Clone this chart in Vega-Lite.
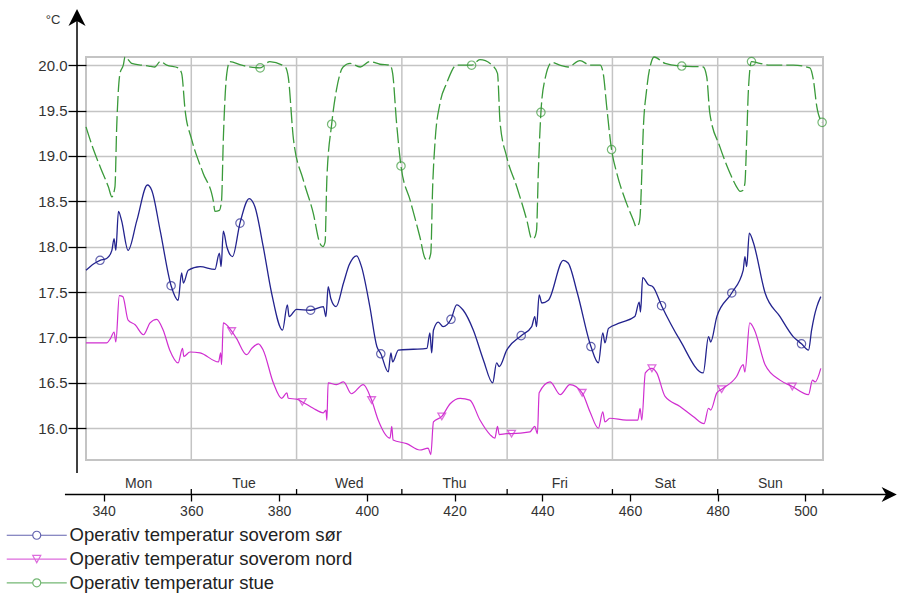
{
  "$schema": "https://vega.github.io/schema/vega-lite/v6.json",
  "width": 737,
  "height": 403,
  "autosize": {"type": "none"},
  "padding": {"left": 86, "top": 57, "right": 74, "bottom": 135},
  "background": "white",
  "config": {
    "view": {"stroke": "#c4c4c4", "strokeWidth": 2},
    "font": "Liberation Sans"
  },
  "datasets": {
    "sor": [
      {"t":336,"v":17.74},{"t":337.7,"v":17.81},{"t":339.2,"v":17.85},{"t":340.7,"v":17.87},{"t":341.9,"v":17.96},{"t":342.4,"v":18.09},{"t":342.8,"v":17.96},{"t":343.4,"v":18.39},{"t":344.1,"v":18.29},{"t":345.6,"v":17.96},{"t":347.6,"v":18.29},{"t":350.0,"v":18.68},{"t":351.0,"v":18.62},{"t":352.9,"v":18.18},{"t":355.4,"v":17.57},{"t":357.0,"v":17.41},{"t":357.8,"v":17.71},{"t":358.2,"v":17.6},{"t":359.3,"v":17.74},{"t":362.0,"v":17.78},{"t":365.4,"v":17.75},{"t":366.4,"v":17.93},{"t":366.8,"v":17.78},{"t":367.3,"v":18.17},{"t":368.1,"v":18.0},{"t":369.4,"v":17.89},{"t":371.1,"v":18.26},{"t":373.2,"v":18.53},{"t":374.5,"v":18.44},{"t":376.4,"v":18.0},{"t":378.3,"v":17.49},{"t":380.8,"v":17.08},{"t":381.9,"v":17.36},{"t":382.3,"v":17.23},{"t":384.0,"v":17.31},{"t":387.2,"v":17.3},{"t":390.1,"v":17.34},{"t":390.7,"v":17.23},{"t":391.2,"v":17.56},{"t":391.8,"v":17.43},{"t":393.0,"v":17.34},{"t":394.7,"v":17.6},{"t":396.0,"v":17.8},{"t":397.7,"v":17.9},{"t":398.8,"v":17.78},{"t":400.7,"v":17.34},{"t":402.3,"v":16.9},{"t":403.2,"v":16.82},{"t":404.9,"v":16.62},{"t":405.5,"v":16.83},{"t":405.9,"v":16.73},{"t":407.2,"v":16.86},{"t":410.6,"v":16.87},{"t":413.7,"v":16.88},{"t":414.4,"v":17.05},{"t":414.8,"v":16.83},{"t":415.2,"v":17.08},{"t":416.3,"v":17.17},{"t":417.4,"v":17.12},{"t":419.2,"v":17.2},{"t":420.5,"v":17.36},{"t":422.0,"v":17.3},{"t":424.3,"v":17.08},{"t":426.6,"v":16.75},{"t":428.7,"v":16.5},{"t":429.6,"v":16.72},{"t":430.2,"v":16.68},{"t":431.9,"v":16.86},{"t":435.2,"v":17.02},{"t":437.6,"v":17.12},{"t":438.3,"v":17.23},{"t":438.7,"v":17.12},{"t":439.3,"v":17.47},{"t":439.9,"v":17.38},{"t":441.4,"v":17.41},{"t":444.8,"v":17.85},{"t":445.9,"v":17.82},{"t":448.0,"v":17.49},{"t":451.1,"v":16.9},{"t":452.8,"v":16.72},{"t":453.8,"v":17.05},{"t":454.3,"v":16.94},{"t":455.1,"v":17.1},{"t":457.7,"v":17.16},{"t":461.1,"v":17.23},{"t":462.1,"v":17.39},{"t":462.4,"v":17.28},{"t":462.9,"v":17.66},{"t":464.2,"v":17.58},{"t":465.2,"v":17.56},{"t":467.2,"v":17.35},{"t":471.4,"v":16.97},{"t":476.7,"v":16.61},{"t":477.9,"v":17.01},{"t":478.4,"v":16.95},{"t":479.8,"v":17.23},{"t":483.2,"v":17.49},{"t":485.8,"v":17.74},{"t":486.2,"v":17.89},{"t":486.6,"v":17.78},{"t":487.2,"v":18.15},{"t":488.1,"v":18.05},{"t":490.8,"v":17.49},{"t":494.2,"v":17.23},{"t":497.2,"v":17.01},{"t":499.1,"v":16.93},{"t":500.7,"v":16.86},{"t":501.4,"v":17.08},{"t":502.0,"v":17.23},{"t":502.6,"v":17.34},{"t":503.5,"v":17.45}
    ],
    "nord": [
      {"t":336,"v":16.94},{"t":340.7,"v":16.94},{"t":341.6,"v":16.99},{"t":342.4,"v":17.06},{"t":342.8,"v":16.95},{"t":343.6,"v":17.46},{"t":344.4,"v":17.45},{"t":345.6,"v":17.19},{"t":347.2,"v":17.14},{"t":349.1,"v":17.03},{"t":350.6,"v":17.16},{"t":352.1,"v":17.2},{"t":353.6,"v":17.08},{"t":355.1,"v":16.86},{"t":357.0,"v":16.72},{"t":358.0,"v":16.88},{"t":358.3,"v":16.79},{"t":359.7,"v":16.84},{"t":362.0,"v":16.83},{"t":366.2,"v":16.73},{"t":366.7,"v":16.83},{"t":366.9,"v":16.7},{"t":367.3,"v":17.16},{"t":369.2,"v":17.07},{"t":370.3,"v":16.99},{"t":372.6,"v":16.81},{"t":373.8,"v":16.88},{"t":375.3,"v":16.93},{"t":376.4,"v":16.86},{"t":378.7,"v":16.5},{"t":380.6,"v":16.33},{"t":381.8,"v":16.39},{"t":382.1,"v":16.33},{"t":384.0,"v":16.32},{"t":385.3,"v":16.29},{"t":387.8,"v":16.22},{"t":390.1,"v":16.17},{"t":390.7,"v":16.2},{"t":390.9,"v":16.09},{"t":391.2,"v":16.5},{"t":393.1,"v":16.48},{"t":394.7,"v":16.51},{"t":396.5,"v":16.38},{"t":399.2,"v":16.48},{"t":401.1,"v":16.31},{"t":402.6,"v":16.09},{"t":405.3,"v":15.89},{"t":405.7,"v":16.02},{"t":406.0,"v":15.87},{"t":409.1,"v":15.83},{"t":412.1,"v":15.76},{"t":414.0,"v":15.78},{"t":414.6,"v":15.71},{"t":415.2,"v":16.07},{"t":417.1,"v":16.13},{"t":419.0,"v":16.27},{"t":421.3,"v":16.33},{"t":423.5,"v":16.31},{"t":425.8,"v":16.09},{"t":428.1,"v":15.93},{"t":429.2,"v":15.89},{"t":429.8,"v":16.02},{"t":430.2,"v":15.93},{"t":431.9,"v":15.94},{"t":433.0,"v":15.94},{"t":437.2,"v":15.96},{"t":438.3,"v":16.02},{"t":438.9,"v":15.94},{"t":439.3,"v":16.39},{"t":441.8,"v":16.51},{"t":444.1,"v":16.37},{"t":446.3,"v":16.48},{"t":449.1,"v":16.39},{"t":450.9,"v":16.18},{"t":452.8,"v":16.0},{"t":453.8,"v":16.18},{"t":454.3,"v":16.07},{"t":455.4,"v":16.11},{"t":459.2,"v":16.09},{"t":461.8,"v":16.09},{"t":462.3,"v":16.22},{"t":462.7,"v":16.09},{"t":463.5,"v":16.61},{"t":465.0,"v":16.66},{"t":466.1,"v":16.61},{"t":468.0,"v":16.35},{"t":471.4,"v":16.24},{"t":474.4,"v":16.13},{"t":476.9,"v":16.05},{"t":477.9,"v":16.22},{"t":478.4,"v":16.2},{"t":479.8,"v":16.39},{"t":480.9,"v":16.43},{"t":484.3,"v":16.57},{"t":485.8,"v":16.7},{"t":486.2,"v":16.62},{"t":487.3,"v":17.16},{"t":488.4,"v":17.08},{"t":490.8,"v":16.7},{"t":494.2,"v":16.53},{"t":497.0,"v":16.46},{"t":500.7,"v":16.37},{"t":501.6,"v":16.53},{"t":502.2,"v":16.51},{"t":503.5,"v":16.66}
    ],
    "stue": [
      {"t":336,"v":19.32},{"t":337.7,"v":19.07},{"t":339.4,"v":18.86},{"t":341.1,"v":18.66},{"t":341.9,"v":18.55},{"t":342.6,"v":18.66},{"t":343.0,"v":19.32},{"t":343.75,"v":19.91},{"t":344.5,"v":20.0},{"t":344.9,"v":20.09},{"t":346.4,"v":20.02},{"t":348.7,"v":20.0},{"t":350.3,"v":19.99},{"t":351.7,"v":19.98},{"t":352.9,"v":20.04},{"t":354.4,"v":20.0},{"t":357.0,"v":19.97},{"t":357.8,"v":19.91},{"t":358.6,"v":19.5},{"t":360.1,"v":19.18},{"t":362.7,"v":18.81},{"t":365.0,"v":18.51},{"t":365.4,"v":18.39},{"t":366.4,"v":18.4},{"t":366.9,"v":18.51},{"t":367.3,"v":19.18},{"t":368.1,"v":19.91},{"t":368.8,"v":20.04},{"t":371.5,"v":20.0},{"t":375.7,"v":19.97},{"t":377.9,"v":20.04},{"t":381.4,"v":19.98},{"t":382.1,"v":19.87},{"t":383.3,"v":19.18},{"t":385.5,"v":18.74},{"t":387.8,"v":18.37},{"t":389.3,"v":18.04},{"t":390.0,"v":18.0},{"t":390.5,"v":18.05},{"t":390.9,"v":18.74},{"t":392.0,"v":19.35},{"t":393.1,"v":19.73},{"t":394.6,"v":19.98},{"t":396.2,"v":20.02},{"t":398.5,"v":19.98},{"t":400.7,"v":20.04},{"t":403.0,"v":20.01},{"t":405.3,"v":20.0},{"t":405.9,"v":19.91},{"t":406.8,"v":19.36},{"t":407.8,"v":18.89},{"t":409.9,"v":18.51},{"t":412.1,"v":18.11},{"t":413.3,"v":17.87},{"t":414.0,"v":17.85},{"t":414.6,"v":17.93},{"t":415.0,"v":18.63},{"t":415.6,"v":19.18},{"t":416.7,"v":19.58},{"t":418.2,"v":19.8},{"t":420.5,"v":20.0},{"t":423.9,"v":20.0},{"t":425.8,"v":20.06},{"t":428.8,"v":19.99},{"t":429.8,"v":19.91},{"t":430.4,"v":19.36},{"t":431.9,"v":18.99},{"t":434.2,"v":18.66},{"t":436.5,"v":18.29},{"t":437.6,"v":18.09},{"t":438.2,"v":18.1},{"t":438.7,"v":18.18},{"t":439.1,"v":18.81},{"t":439.7,"v":19.48},{"t":440.6,"v":19.84},{"t":442.2,"v":20.03},{"t":444.0,"v":20.0},{"t":445.9,"v":19.98},{"t":448.6,"v":20.05},{"t":450.9,"v":20.0},{"t":453.2,"v":20.0},{"t":453.9,"v":19.91},{"t":454.7,"v":19.54},{"t":455.8,"v":19.07},{"t":457.0,"v":18.81},{"t":459.2,"v":18.48},{"t":460.8,"v":18.29},{"t":461.4,"v":18.22},{"t":462.0,"v":18.25},{"t":462.3,"v":18.33},{"t":462.7,"v":18.81},{"t":463.0,"v":19.25},{"t":463.8,"v":19.73},{"t":464.9,"v":20.04},{"t":465.5,"v":20.09},{"t":468.0,"v":20.02},{"t":471.8,"v":19.99},{"t":476.7,"v":19.98},{"t":477.5,"v":19.87},{"t":478.2,"v":19.47},{"t":480.5,"v":19.1},{"t":482.8,"v":18.81},{"t":484.3,"v":18.66},{"t":485.1,"v":18.61},{"t":485.7,"v":18.62},{"t":486.2,"v":18.7},{"t":486.6,"v":19.18},{"t":487.0,"v":19.73},{"t":487.7,"v":20.04},{"t":489.6,"v":20.02},{"t":491.9,"v":20.0},{"t":497.2,"v":20.0},{"t":501.0,"v":19.97},{"t":501.8,"v":19.84},{"t":502.6,"v":19.54},{"t":503.8,"v":19.37}
    ],
    "sorMarks": [
      {"t":339.2,"v":17.85},{"t":355.4,"v":17.57},{"t":371.1,"v":18.26},{"t":387.2,"v":17.3},{"t":403.2,"v":16.82},{"t":419.2,"v":17.2},{"t":435.2,"v":17.02},{"t":451.1,"v":16.9},{"t":467.2,"v":17.35},{"t":483.2,"v":17.49},{"t":499.1,"v":16.93}
    ],
    "nordMarks": [
      {"t":369.2,"v":17.07},{"t":385.3,"v":16.29},{"t":401.1,"v":16.31},{"t":417.1,"v":16.13},{"t":433.0,"v":15.94},{"t":449.1,"v":16.39},{"t":465.0,"v":16.66},{"t":480.9,"v":16.43},{"t":497.0,"v":16.46}
    ],
    "stueMarks": [
      {"t":375.7,"v":19.97},{"t":392.0,"v":19.35},{"t":407.8,"v":18.89},{"t":423.9,"v":20.0},{"t":439.7,"v":19.48},{"t":455.8,"v":19.07},{"t":471.8,"v":19.99},{"t":487.7,"v":20.04},{"t":503.8,"v":19.37}
    ],
    "days": [
      {"d":"Mon","t":348},{"d":"Tue","t":372},{"d":"Wed","t":396},{"d":"Thu","t":420},{"d":"Fri","t":444},{"d":"Sat","t":468},{"d":"Sun","t":492}
    ],
    "dayBounds": [
      {"t":360},{"t":384},{"t":408},{"t":432},{"t":456},{"t":480},{"t":504}
    ],
    "series": [{"s":"sør"},{"s":"nord"},{"s":"stue"}]
  },
  "layer": [
    {
      "data": {"name": "dayBounds"},
      "transform": [{"filter": "datum.t < 500"}],
      "mark": {"type": "rule", "color": "#c4c4c4", "strokeWidth": 1.5},
      "encoding": {
        "x": {"field": "t", "type": "quantitative", "scale": {"domain": [336, 504], "nice": false, "zero": false},
          "axis": {"orient": "bottom", "offset": 34, "values": [340, 360, 380, 400, 420, 440, 460, 480, 500], "format": "d", "grid": false, "domain": false, "tickSize": 7, "tickColor": "#000", "tickWidth": 1.3, "labelFontSize": 14, "labelColor": "#333", "labelPadding": 3, "title": null}}
      }
    },
    {
      "data": {"name": "sor"},
      "mark": {"type": "line", "color": "#23238e", "strokeWidth": 1.3, "interpolate": "monotone"},
      "encoding": {
        "x": {"field": "t", "type": "quantitative", "scale": {"domain": [336, 504], "nice": false, "zero": false}},
        "y": {"field": "v", "type": "quantitative", "scale": {"domain": [15.65, 20.09], "nice": false, "zero": false},
          "axis": {"orient": "left", "values": [16, 16.5, 17, 17.5, 18, 18.5, 19, 19.5, 20], "format": ".1f", "grid": true, "gridColor": "#c4c4c4", "gridWidth": 1.5, "domain": false, "tickSize": 18, "tickColor": "#000", "tickWidth": 1.3, "labelFontSize": 15, "labelColor": "#333", "labelPadding": 1, "title": null}}
      }
    },
    {
      "data": {"name": "nord"},
      "mark": {"type": "line", "color": "#d02ed0", "strokeWidth": 1.2, "interpolate": "monotone"},
      "encoding": {
        "x": {"field": "t", "type": "quantitative"},
        "y": {"field": "v", "type": "quantitative"}
      }
    },
    {
      "data": {"name": "stue"},
      "mark": {"type": "line", "color": "#3a9a3a", "strokeWidth": 1.3, "strokeDash": [16, 4], "interpolate": "monotone"},
      "encoding": {
        "x": {"field": "t", "type": "quantitative"},
        "y": {"field": "v", "type": "quantitative"}
      }
    },
    {
      "data": {"name": "sorMarks"},
      "mark": {"type": "point", "shape": "circle", "filled": false, "size": 70, "color": "#23238e", "strokeWidth": 1.2},
      "encoding": {
        "x": {"field": "t", "type": "quantitative"},
        "y": {"field": "v", "type": "quantitative"}
      }
    },
    {
      "data": {"name": "nordMarks"},
      "mark": {"type": "point", "shape": "triangle-down", "filled": false, "size": 60, "color": "#d02ed0", "strokeWidth": 1.3},
      "encoding": {
        "x": {"field": "t", "type": "quantitative"},
        "y": {"field": "v", "type": "quantitative"}
      }
    },
    {
      "data": {"name": "stueMarks"},
      "mark": {"type": "point", "shape": "circle", "filled": false, "size": 70, "color": "#3a9a3a", "strokeWidth": 1.2},
      "encoding": {
        "x": {"field": "t", "type": "quantitative"},
        "y": {"field": "v", "type": "quantitative"}
      }
    },
    {
      "data": {"name": "series"},
      "transform": [{"filter": "false"}],
      "mark": {"type": "point", "filled": false, "strokeWidth": 1.2},
      "encoding": {
        "color": {"field": "s", "type": "nominal",
          "scale": {"domain": ["sør", "nord", "stue"], "range": ["#23238e", "#d02ed0", "#3a9a3a"]},
          "legend": {"orient": "none", "legendX": -58.5, "legendY": 469, "title": null, "padding": 0, "labelFontSize": 18.5, "labelFont": "Liberation Sans", "labelColor": "#222", "labelLimit": 600, "symbolSize": 64, "symbolStrokeWidth": 1.2, "labelOffset": 23.5, "rowPadding": 4.8,
            "labelExpr": "datum.label == 'stue' ? 'Operativ temperatur stue' : 'Operativ temperatur soverom ' + datum.label"}},
        "shape": {"field": "s", "type": "nominal",
          "scale": {"domain": ["sør", "nord", "stue"], "range": ["M-7.5,0L-1,0M1,0L7.5,0M-1,0A1,1 0 1,1 1,0A1,1 0 1,1 -1,0", "M-7.5,0L7.5,0M-1,-0.9L1,-0.9L0,0.9Z", "M-7.5,0L-1,0M1,0L7.5,0M-1,0A1,1 0 1,1 1,0A1,1 0 1,1 -1,0"]},
          "legend": {"orient": "none", "legendX": -58.5, "legendY": 469, "title": null, "padding": 0, "labelFontSize": 18.5, "labelFont": "Liberation Sans", "labelColor": "#222", "labelLimit": 600, "symbolSize": 64, "symbolStrokeWidth": 1.2, "labelOffset": 23.5, "rowPadding": 4.8,
            "labelExpr": "datum.label == 'stue' ? 'Operativ temperatur stue' : 'Operativ temperatur soverom ' + datum.label"}}
      }
    },
    {
      "data": {"name": "dayBounds"},
      "mark": {"type": "rule", "color": "#000", "strokeWidth": 1.3},
      "encoding": {
        "x": {"field": "t", "type": "quantitative"},
        "y": {"datum": 15.33, "type": "quantitative"},
        "y2": {"datum": 15.27}
      }
    },
    {
      "data": {"name": "days"},
      "mark": {"type": "text", "fontSize": 14, "color": "#333", "font": "Liberation Sans"},
      "encoding": {
        "x": {"field": "t", "type": "quantitative"},
        "y": {"datum": 15.39, "type": "quantitative"},
        "text": {"field": "d", "type": "nominal"}
      }
    },
    {
      "data": {"values": [{"axis": "y"}]},
      "mark": {"type": "rule", "color": "#000", "strokeWidth": 1.5},
      "encoding": {
        "x": {"datum": 333.95, "type": "quantitative"},
        "y": {"datum": 15.507, "type": "quantitative"},
        "y2": {"datum": 20.55}
      }
    },
    {
      "data": {"values": [{"axis": "x"}]},
      "mark": {"type": "rule", "color": "#000", "strokeWidth": 1.5},
      "encoding": {
        "x": {"datum": 331.2, "type": "quantitative"},
        "x2": {"datum": 518.5},
        "y": {"datum": 15.27, "type": "quantitative"}
      }
    },
    {
      "data": {"values": [{"axis": "y"}]},
      "mark": {"type": "point", "shape": "M0,-1L0.95,0.9L0,0.35L-0.95,0.9Z", "filled": true, "color": "#000", "opacity": 1, "size": 324},
      "encoding": {
        "x": {"datum": 333.95, "type": "quantitative"},
        "y": {"datum": 20.52, "type": "quantitative"}
      }
    },
    {
      "data": {"values": [{"axis": "x"}]},
      "mark": {"type": "point", "shape": "M0,-1L0.95,0.9L0,0.35L-0.95,0.9Z", "filled": true, "color": "#000", "opacity": 1, "size": 256, "angle": 90},
      "encoding": {
        "x": {"datum": 519.0, "type": "quantitative"},
        "y": {"datum": 15.27, "type": "quantitative"}
      }
    },
    {
      "data": {"values": [{"unit": "°C"}]},
      "mark": {"type": "text", "fontSize": 13, "color": "#333", "font": "Liberation Sans"},
      "encoding": {
        "x": {"datum": 328.5, "type": "quantitative"},
        "y": {"datum": 20.5, "type": "quantitative"},
        "text": {"field": "unit", "type": "nominal"}
      }
    }
  ]
}
